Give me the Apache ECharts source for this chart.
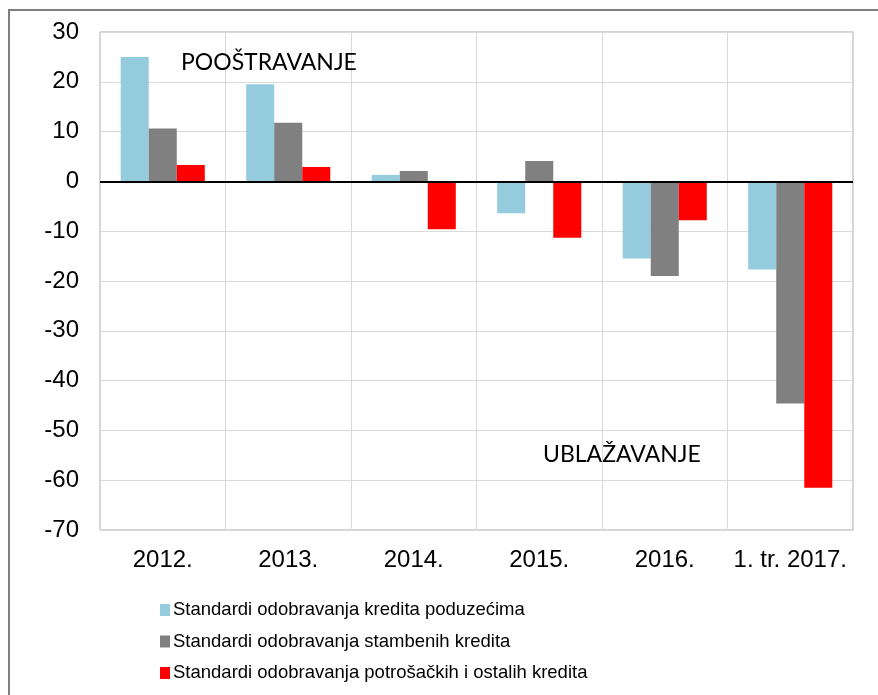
<!DOCTYPE html>
<html>
<head>
<meta charset="utf-8">
<script src="https://cdn.jsdelivr.net/npm/echarts@6/dist/echarts.min.js"></script>
<style>
html,body{margin:0;padding:0;background:#fff;}
#chart{width:878px;height:695px;}
</style>
</head>
<body>
<div id="chart"></div>
<script>
var categories = ['2012.', '2013.', '2014.', '2015.', '2016.', '1. tr. 2017.'];
var seriesNames = [
  'Standardi odobravanja kredita poduzećima',
  'Standardi odobravanja stambenih kredita',
  'Standardi odobravanja potrošačkih i ostalih kredita'
];
var poduzeca = [25.0, 19.5, 1.3, -6.4, -15.5, -17.7];
var stambeni = [10.6, 11.8, 2.1, 4.1, -19.0, -44.6];
var potrosacki = [3.3, 2.9, -9.6, -11.3, -7.8, -61.5];
var yTicks = {min: -70, max: 30, interval: 10};
var annotTop = 'POOŠTRAVANJE';
var annotBottom = 'UBLAŽAVANJE';

var chart = echarts.init(document.getElementById('chart'), null, {renderer: 'canvas'});
var axisFont = '"Liberation Sans", Arial, sans-serif';
var colors = ['#94CCDD', '#808080', '#FF0000'];

function barSeries(i, data) {
  return {
    name: seriesNames[i],
    type: 'bar',
    data: data,
    barGap: '0%',
    barCategoryGap: '33%',
    itemStyle: {color: colors[i]},
    emphasis: {disabled: true},
    z: 2
  };
}

var s3 = barSeries(2, potrosacki);
s3.markLine = {
  silent: true,
  symbol: ['none', 'none'],
  label: {show: false},
  lineStyle: {color: '#000', width: 2, type: 'solid'},
  data: [{yAxis: 0}],
  z: 5
};

chart.setOption({
  animation: false,
  backgroundColor: '#fff',
  color: colors,
  grid: {
    left: 100, right: 25, top: 32, bottom: 165,
    show: true, borderColor: '#a6a6a6', borderWidth: 1, backgroundColor: 'transparent'
  },
  xAxis: {
    type: 'category',
    data: categories,
    boundaryGap: true,
    axisLine: {show: false, onZero: false},
    axisTick: {show: false},
    splitLine: {show: true, interval: 0, lineStyle: {color: '#d9d9d9', width: 1}},
    axisLabel: {interval: 0, color: '#000', fontSize: 24, fontFamily: axisFont, margin: 18}
  },
  yAxis: {
    type: 'value',
    min: yTicks.min, max: yTicks.max, interval: yTicks.interval,
    axisLine: {show: false},
    axisTick: {show: false},
    splitLine: {show: true, lineStyle: {color: '#d9d9d9', width: 1}},
    axisLabel: {color: '#000', fontSize: 24, fontFamily: axisFont, margin: 21}
  },
  legend: {
    orient: 'vertical',
    left: 160,
    top: 598,
    padding: 0,
    icon: 'rect',
    itemWidth: 10,
    itemHeight: 12,
    itemGap: 7.5,
    data: seriesNames,
    selectedMode: false,
    textStyle: {color: '#000', fontSize: 18.5, fontFamily: axisFont, lineHeight: 24, padding: [0, 0, 0, -2]}
  },
  graphic: [
    {
      type: 'rect', silent: true, z: 100,
      shape: {x: 9, y: 10, width: 900, height: 720},
      style: {fill: 'none', stroke: '#7f7f7f', lineWidth: 2}
    },
    {
      type: 'text', silent: true, z: 100,
      x: 181, y: 63,
      style: {text: annotTop, font: '23px Lato, "Open Sans", sans-serif', fill: '#000', verticalAlign: 'middle'}
    },
    {
      type: 'text', silent: true, z: 100,
      x: 543, y: 455,
      style: {text: annotBottom, font: '23px Lato, "Open Sans", sans-serif', fill: '#000', verticalAlign: 'middle'}
    }
  ],
  series: [barSeries(0, poduzeca), barSeries(1, stambeni), s3]
});
</script>
</body>
</html>
